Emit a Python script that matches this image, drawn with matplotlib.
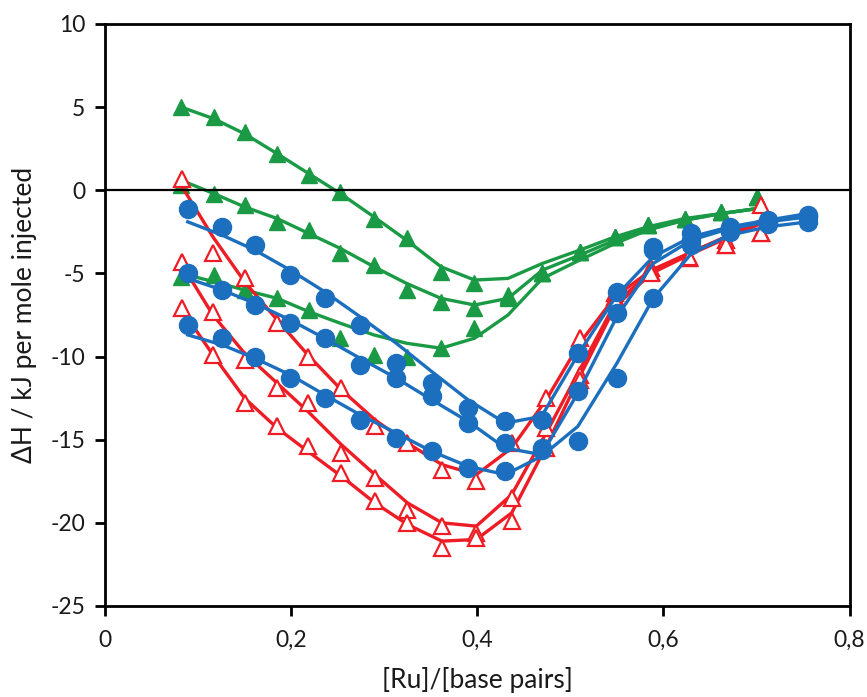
import matplotlib
matplotlib.use("Agg")
import matplotlib.pyplot as plt

plt.rcParams['font.family'] = ['Lato', 'DejaVu Sans']

# ---------------- data ----------------
green_x = [0.082, 0.117, 0.150, 0.185, 0.219, 0.253, 0.289, 0.324, 0.361, 0.397,
           0.433, 0.470, 0.510, 0.548, 0.583, 0.623, 0.662, 0.701]
green1_pts = [5.0, 4.4, 3.5, 2.2, 0.9, -0.1, -1.7, -2.9, -4.9, -5.6,
              -6.3, -5.0, -3.7, -2.8, -2.1, -1.7, -1.3, -0.4]
green1_fit = [5.0, 4.3, 3.4, 2.2, 1.0, -0.2, -1.6, -3.0, -4.6, -5.4,
              -5.3, -4.4, -3.6, -2.8, -2.2, -1.7, -1.4, -1.1]
green2_pts = [0.3, -0.2, -0.9, -1.9, -2.4, -3.8, -4.5, -6.0, -6.7, -7.1,
              -6.4, -5.0, -3.7, -2.8, -2.1, -1.7, -1.3, -0.4]
green2_fit = [0.6, -0.2, -1.0, -1.7, -2.6, -3.5, -4.6, -5.6, -6.5, -6.9,
              -6.5, -4.8, -3.9, -3.0, -2.3, -1.8, -1.4, -1.1]
green3_pts = [-5.2, -5.1, -6.0, -6.5, -7.2, -8.9, -9.9, -10.0, -9.5, -8.3,
              -6.5, -5.0, -3.7, -2.8, -2.1, -1.7, -1.3, -0.4]
green3_fit = [-5.0, -5.5, -6.0, -6.5, -7.3, -8.0, -8.7, -9.2, -9.5, -8.9,
              -7.5, -5.3, -4.2, -3.2, -2.4, -1.8, -1.4, -1.1]

red_x = [0.083, 0.116, 0.150, 0.185, 0.218, 0.254, 0.290, 0.325, 0.362, 0.399,
         0.437, 0.474, 0.510, 0.548, 0.587, 0.627, 0.667, 0.705]
red1_pts = [0.7, -3.8, -5.3, -8.0, -10.0, -11.9, -14.2, -15.2, -16.8, -17.5,
            -15.2, -12.5, -8.9, -6.2, -4.7, -4.1, -3.3, -2.6]
red1_fit = [0.2, -2.8, -5.5, -7.8, -9.9, -12.0, -13.8, -15.2, -16.5, -17.1,
            -15.5, -12.6, -9.2, -6.4, -4.8, -3.8, -2.8, -1.8]
red2_pts = [-4.3, -7.3, -10.2, -11.9, -12.8, -15.8, -17.3, -19.2, -20.2, -20.6,
            -18.5, -14.3, -11.1, -6.4, -4.9, -4.1, -3.0, -0.9]
red2_fit = [-4.5, -7.5, -9.8, -11.6, -13.3, -15.3, -17.1, -18.8, -20.0, -20.2,
            -18.3, -14.6, -10.8, -6.8, -4.9, -3.8, -2.8, -1.9]
red3_pts = [-7.1, -9.9, -12.8, -14.2, -15.4, -17.0, -18.7, -20.0, -21.5, -20.9,
            -19.9, -15.5, -11.4, -6.6, -5.0, -4.0, -3.3, -2.6]
red3_fit = [-7.2, -9.9, -12.5, -14.3, -15.7, -17.2, -18.8, -20.1, -21.1, -21.0,
            -19.4, -15.4, -11.2, -7.0, -5.0, -3.9, -2.9, -2.0]

blue_x = [0.089, 0.126, 0.161, 0.199, 0.236, 0.274, 0.313, 0.351, 0.390, 0.430,
          0.469, 0.508, 0.550, 0.589, 0.630, 0.671, 0.712, 0.755]
blue1_pts = [-1.1, -2.2, -3.3, -5.1, -6.5, -8.1, -10.4, -11.6, -13.1, -13.9,
             -13.8, -9.8, -6.1, -3.4, -2.6, -2.2, -1.8, -1.5]
blue1_fit = [-1.9, -2.7, -3.6, -4.8, -6.1, -7.6, -9.2, -10.9, -12.6, -14.0,
             -13.6, -9.9, -6.3, -4.0, -2.8, -2.2, -1.8, -1.4]
blue2_pts = [-5.0, -6.0, -6.9, -8.0, -8.9, -10.5, -11.3, -12.4, -14.0, -15.2,
             -15.5, -12.1, -7.4, -3.6, -3.0, -2.3, -1.9, -1.6]
blue2_fit = [-5.3, -6.0, -6.8, -7.8, -8.9, -10.1, -11.3, -12.6, -13.9, -15.5,
             -15.9, -12.2, -7.6, -4.4, -3.0, -2.3, -1.9, -1.6]
blue3_pts = [-8.1, -8.9, -10.0, -11.3, -12.5, -13.8, -14.9, -15.7, -16.7, -16.9,
             -15.6, -15.1, -11.3, -6.5, -3.3, -2.5, -2.0, -1.9]
blue3_fit = [-8.7, -9.3, -10.1, -11.1, -12.3, -13.5, -14.6, -15.7, -16.6, -17.1,
             -16.0, -14.2, -10.4, -6.5, -3.8, -2.7, -2.2, -1.9]

x_ticks = [0, 0.2, 0.4, 0.6, 0.8]
x_ticklabels = ["0", "0,2", "0,4", "0,6", "0,8"]
y_ticks = [-25, -20, -15, -10, -5, 0, 5, 10]
y_ticklabels = ["-25", "-20", "-15", "-10", "-5", "0", "5", "10"]
x_label = "[Ru]/[base pairs]"
y_label = "ΔH / kJ per mole injected"

# ---------------- style ----------------
GREEN = "#1a9a44"
RED = "#ee1c25"
BLUE = "#1b6fbe"
TEXT = "#1a1a1a"

fig = plt.figure(figsize=(8.67, 6.97), dpi=100)
ax = fig.add_axes([0.121, 0.1306, 0.859, 0.835])

lw = 2.4
for xs, pts, fit in [(green_x, green1_pts, green1_fit),
                     (green_x, green2_pts, green2_fit),
                     (green_x, green3_pts, green3_fit)]:
    ax.plot(xs, fit, color=GREEN, lw=lw, zorder=2, solid_joinstyle='round')
    ax.plot(xs, pts, ls='none', marker='^', ms=12, color=GREEN,
            markeredgecolor=GREEN, zorder=3)

for xs, pts, fit in [(red_x, red1_pts, red1_fit),
                     (red_x, red2_pts, red2_fit),
                     (red_x, red3_pts, red3_fit)]:
    ax.plot(xs, fit, color=RED, lw=lw, zorder=4, solid_joinstyle='round')
    ax.plot(xs, pts, ls='none', marker='^', ms=12, markerfacecolor='white',
            markeredgecolor=RED, markeredgewidth=1.6, zorder=5)

for xs, pts, fit in [(blue_x, blue1_pts, blue1_fit),
                     (blue_x, blue2_pts, blue2_fit),
                     (blue_x, blue3_pts, blue3_fit)]:
    ax.plot(xs, fit, color=BLUE, lw=lw, zorder=6, solid_joinstyle='round')
    ax.plot(xs, pts, ls='none', marker='o', ms=13, color=BLUE,
            markeredgecolor=BLUE, zorder=7)

ax.axhline(0, color='black', lw=1.6, zorder=8)

ax.set_xlim(0, 0.8)
ax.set_ylim(-25, 10)
ax.set_xticks(x_ticks)
ax.set_xticklabels(x_ticklabels)
ax.set_yticks(y_ticks)
ax.set_yticklabels(y_ticklabels)

for s in ax.spines.values():
    s.set_linewidth(2.0)
    s.set_color('black')
    s.set_zorder(9)

ax.tick_params(axis='both', direction='out', length=7, width=2.0,
               labelsize=16.5, labelcolor=TEXT, color='black', pad=7)
ax.tick_params(axis='x', pad=10)

ax.set_xlabel(x_label, fontsize=19, color=TEXT, labelpad=12)
ax.set_ylabel(y_label, fontsize=19, color=TEXT, labelpad=10)

fig.savefig("out.png", dpi=100)
